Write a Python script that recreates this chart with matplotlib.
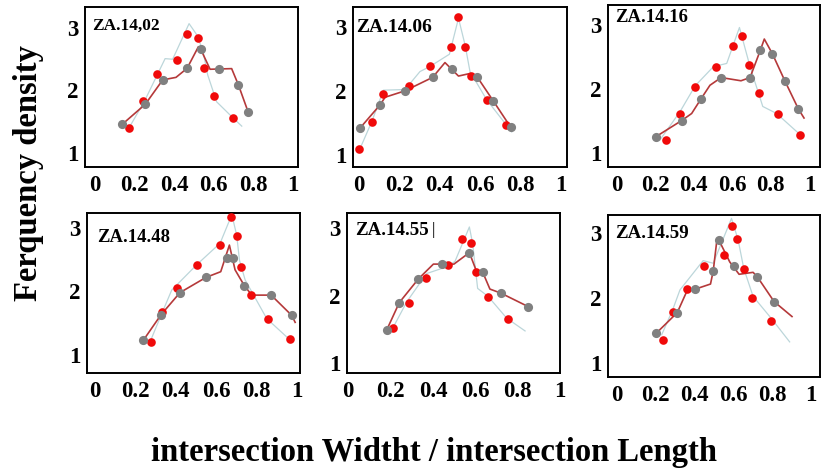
import matplotlib
matplotlib.use("Agg")
import matplotlib.pyplot as plt

plt.rcParams['font.family'] = ['Liberation Serif', 'DejaVu Serif']
plt.rcParams['font.weight'] = 'bold'

# ---------------- data ----------------
labels = ["ZA.14,02", "ZA.14.06", "ZA.14.16", "ZA.14.48", "ZA.14.55", "ZA.14.59"]
tick_vals = [0, 0.2, 0.4, 0.6, 0.8, 1]
tick_text = ["0", "0.2", "0.4", "0.6", "0.8", "1"]
ytick_vals = [1, 2, 3]
ytick_text = ["1", "2", "3"]

# panel 1
p1_red_x = [0.173, 0.244, 0.311, 0.412, 0.463, 0.518, 0.552, 0.603, 0.699]
p1_red_y = [1.395, 1.83, 2.26, 2.49, 2.90, 2.835, 2.365, 1.91, 1.555]
p1_grey_x = [0.138, 0.254, 0.342, 0.465, 0.534, 0.625, 0.724, 0.774]
p1_grey_y = [1.46, 1.78, 2.17, 2.355, 2.66, 2.35, 2.09, 1.65]
p1_dark_x = [0.138, 0.254, 0.342, 0.409, 0.465, 0.522, 0.534, 0.581, 0.690, 0.724, 0.774]
p1_dark_y = [1.46, 1.78, 2.17, 2.21, 2.355, 2.70, 2.66, 2.34, 2.35, 2.09, 1.65]
p1_light_x = [0.177, 0.253, 0.354, 0.392, 0.475, 0.510, 0.544, 0.569, 0.614, 0.699, 0.741]
p1_light_y = [1.43, 1.85, 2.51, 2.50, 3.07, 2.91, 2.65, 2.25, 1.82, 1.555, 1.43]

# panel 2
p2_red_x = [0.002, 0.063, 0.121, 0.248, 0.350, 0.455, 0.493, 0.526, 0.555, 0.636, 0.731]
p2_red_y = [1.09, 1.52, 1.95, 2.08, 2.39, 2.69, 3.15, 2.69, 2.23, 1.85, 1.47]
p2_grey_x = [0.005, 0.104, 0.228, 0.365, 0.461, 0.585, 0.666, 0.755]
p2_grey_y = [1.42, 1.78, 2.00, 2.21, 2.34, 2.22, 1.84, 1.44]
p2_dark_x = [0.005, 0.104, 0.129, 0.228, 0.365, 0.426, 0.493, 0.550, 0.585, 0.666, 0.744]
p2_dark_y = [1.42, 1.78, 1.90, 2.00, 2.21, 2.44, 2.23, 2.27, 2.22, 1.84, 1.47]
p2_light_x = [0.005, 0.063, 0.121, 0.228, 0.302, 0.352, 0.448, 0.493, 0.526, 0.550, 0.633, 0.757]
p2_light_y = [1.10, 1.52, 2.01, 2.02, 2.30, 2.38, 2.57, 3.13, 2.71, 2.30, 1.86, 1.36]

# panel 3
p3_red_x = [0.256, 0.329, 0.407, 0.516, 0.606, 0.651, 0.685, 0.737, 0.836, 0.952]
p3_red_y = [1.21, 1.62, 2.03, 2.34, 2.67, 2.83, 2.38, 1.94, 1.61, 1.29]
p3_grey_x = [0.204, 0.337, 0.438, 0.542, 0.692, 0.746, 0.808, 0.874, 0.943]
p3_grey_y = [1.26, 1.51, 1.85, 2.18, 2.18, 2.61, 2.55, 2.12, 1.69]
p3_dark_x = [0.204, 0.337, 0.389, 0.438, 0.484, 0.542, 0.645, 0.692, 0.746, 0.766, 0.808, 0.874, 0.943, 0.972]
p3_dark_y = [1.26, 1.51, 1.62, 1.85, 2.06, 2.18, 2.13, 2.18, 2.61, 2.78, 2.55, 2.12, 1.69, 1.55]
p3_light_x = [0.225, 0.329, 0.407, 0.502, 0.571, 0.637, 0.683, 0.709, 0.758, 0.830, 0.952]
p3_light_y = [1.21, 1.65, 2.05, 2.35, 2.40, 2.96, 2.45, 2.19, 1.73, 1.62, 1.29]

# panel 4
p4_red_x = [0.278, 0.332, 0.405, 0.507, 0.617, 0.674, 0.702, 0.724, 0.774, 0.856, 0.964]
p4_red_y = [1.205, 1.67, 2.06, 2.41, 2.73, 3.17, 2.87, 2.39, 1.94, 1.56, 1.25]
p4_grey_x = [0.240, 0.327, 0.421, 0.550, 0.656, 0.683, 0.740, 0.873, 0.975]
p4_grey_y = [1.23, 1.63, 1.98, 2.22, 2.52, 2.52, 2.09, 1.94, 1.62]
p4_dark_x = [0.240, 0.327, 0.421, 0.550, 0.623, 0.666, 0.694, 0.740, 0.777, 0.873, 0.975, 0.992]
p4_dark_y = [1.23, 1.63, 1.98, 2.22, 2.31, 2.73, 2.34, 2.09, 1.94, 1.94, 1.62, 1.51]
p4_light_x = [0.273, 0.331, 0.380, 0.504, 0.620, 0.678, 0.702, 0.716, 0.744, 0.851, 0.950]
p4_light_y = [1.205, 1.65, 2.02, 2.42, 2.76, 3.21, 2.89, 2.49, 2.18, 1.57, 1.28]

# panel 5
p5_red_x = [0.209, 0.287, 0.365, 0.469, 0.539, 0.580, 0.602, 0.661, 0.753]
p5_red_y = [1.52, 1.90, 2.27, 2.45, 2.84, 2.79, 2.35, 1.99, 1.65]
p5_grey_x = [0.181, 0.241, 0.331, 0.444, 0.572, 0.635, 0.721, 0.850]
p5_grey_y = [1.49, 1.90, 2.25, 2.47, 2.64, 2.35, 2.04, 1.84]
p5_dark_x = [0.181, 0.241, 0.331, 0.402, 0.444, 0.499, 0.572, 0.606, 0.635, 0.669, 0.721, 0.850]
p5_dark_y = [1.49, 1.90, 2.25, 2.47, 2.47, 2.47, 2.64, 2.36, 2.35, 2.10, 2.04, 1.84]
p5_light_x = [0.205, 0.276, 0.370, 0.465, 0.504, 0.572, 0.587, 0.611, 0.661, 0.748, 0.835]
p5_light_y = [1.49, 1.91, 2.33, 2.43, 2.51, 3.02, 2.78, 2.11, 1.99, 1.67, 1.48]

# panel 6
p6_red_x = [0.236, 0.287, 0.359, 0.450, 0.550, 0.590, 0.619, 0.653, 0.697, 0.795]
p6_red_y = [1.36, 1.79, 2.14, 2.49, 2.67, 3.12, 2.91, 2.45, 2.01, 1.65]
p6_grey_x = [0.202, 0.311, 0.402, 0.496, 0.526, 0.602, 0.723, 0.809]
p6_grey_y = [1.46, 1.78, 2.14, 2.42, 2.89, 2.50, 2.33, 1.95]
p6_dark_x = [0.202, 0.311, 0.359, 0.402, 0.482, 0.496, 0.513, 0.526, 0.581, 0.629, 0.701, 0.723, 0.809, 0.901]
p6_dark_y = [1.46, 1.78, 2.10, 2.14, 2.22, 2.42, 2.85, 2.89, 2.56, 2.37, 2.40, 2.33, 1.95, 1.72]
p6_light_x = [0.231, 0.287, 0.325, 0.444, 0.496, 0.590, 0.624, 0.653, 0.701, 0.795, 0.889]
p6_light_y = [1.44, 1.82, 2.13, 2.58, 2.54, 3.23, 2.90, 2.46, 2.03, 1.69, 1.33]

panels = [
    (p1_red_x, p1_red_y, p1_grey_x, p1_grey_y, p1_dark_x, p1_dark_y, p1_light_x, p1_light_y),
    (p2_red_x, p2_red_y, p2_grey_x, p2_grey_y, p2_dark_x, p2_dark_y, p2_light_x, p2_light_y),
    (p3_red_x, p3_red_y, p3_grey_x, p3_grey_y, p3_dark_x, p3_dark_y, p3_light_x, p3_light_y),
    (p4_red_x, p4_red_y, p4_grey_x, p4_grey_y, p4_dark_x, p4_dark_y, p4_light_x, p4_light_y),
    (p5_red_x, p5_red_y, p5_grey_x, p5_grey_y, p5_dark_x, p5_dark_y, p5_light_x, p5_light_y),
    (p6_red_x, p6_red_y, p6_grey_x, p6_grey_y, p6_dark_x, p6_dark_y, p6_light_x, p6_light_y),
]

# ---------------- layout ----------------
W, H = 822, 471
fig = plt.figure(figsize=(W / 100, H / 100), dpi=100)

# axes boxes in pixels: (left, top, right, bottom)
boxes = [(85, 7, 298, 167), (353, 7, 567, 167), (608, 5, 820, 167),
         (87, 213, 300, 373), (347, 213, 560, 373), (608, 215, 820, 377)]
xlims = [(-0.0505, 1.025), (-0.030, 1.031), (-0.045, 1.055),
         (-0.040, 1.016), (-0.006, 1.0), (-0.045, 1.045)]
ylims = [(0.776, 3.336), (0.813, 3.306), (0.787, 3.31),
         (0.710, 3.237), (0.857, 3.227), (0.790, 3.282)]
# label offsets from top-left corner in pixels (dx, dy to text centre line)
label_off = [(7, 19), (3, 21), (7, 13), (10, 24), (8, 17), (7, 18)]
label_size = [12.5, 14.0, 13.4, 13.4, 13.6, 13.6]

for i, (box, data) in enumerate(zip(boxes, panels)):
    l, t, r, b = box
    ax = fig.add_axes([l / W, 1 - b / H, (r - l) / W, (b - t) / H])
    rx, ry, gx, gy, dx, dy, lx, ly = data
    ax.plot(lx, ly, color='#bcd6da', lw=0.9, zorder=2)
    ax.plot(dx, dy, color='#b5393a', lw=1.2, zorder=3)
    ax.plot(rx, ry, 'o', color='#f00a0a', ms=6.2, mec='none', zorder=4)
    ax.plot(gx, gy, 'o', color='#808080', ms=6.6, mec='none', zorder=5)
    ax.set_xlim(*xlims[i])
    ax.set_ylim(*ylims[i])
    ax.set_xticks(tick_vals)
    ax.set_xticklabels(tick_text, fontsize=16.5, fontweight='bold')
    ax.set_yticks(ytick_vals)
    ax.set_yticklabels(ytick_text, fontsize=16.5, fontweight='bold')
    ax.tick_params(length=0, pad=5)
    ax.tick_params(axis='x', pad=6)
    for s in ax.spines.values():
        s.set_linewidth(1.4)
        s.set_color('black')
    ox, oy = label_off[i]
    ax.annotate(labels[i], xy=(0, 1), xycoords='axes fraction',
                xytext=(ox * 0.72, -oy * 0.72), textcoords='offset points',
                ha='left', va='center', fontsize=label_size[i], fontweight='bold')
    if i == 4:
        ax.annotate("|", xy=(0, 1), xycoords='axes fraction',
                    xytext=((ox + 78) * 0.72, -oy * 0.72), textcoords='offset points',
                    ha='center', va='center', fontsize=12, fontweight='normal')

fig.text(29 / W, 1 - 173 / H, "Ferquency density", rotation=90,
         ha='center', va='center', fontsize=23.5, fontweight='bold')
fig.text(434 / W, 1 - 452 / H, "intersection Widtht / intersection Length",
         ha='center', va='center', fontsize=23.5, fontweight='bold')

fig.savefig("out.png", dpi=100)
